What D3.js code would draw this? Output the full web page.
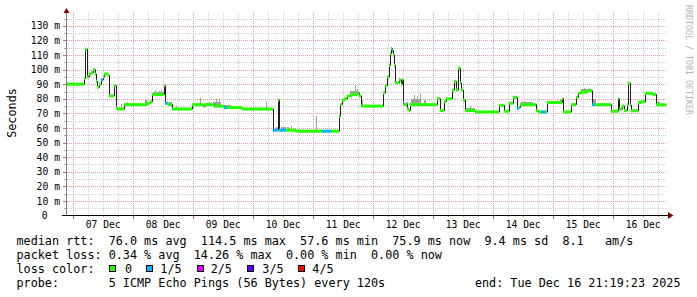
<!DOCTYPE html>
<html><head><meta charset="utf-8">
<script src="https://cdn.jsdelivr.net/npm/d3@7/dist/d3.min.js"></script>
<style>
body{margin:0;background:#fff}
svg text{font-family:"DejaVu Sans Mono",monospace;white-space:pre}
</style>
</head><body>
<svg id="c" width="697" height="297"></svg>
<script>
// ---------- DATA ----------
const startTime = new Date(2025, 11, 6, 21, 19, 23);
const endTime   = new Date(2025, 11, 16, 21, 19, 23);
// median rtt steps: hours since start, ms, lost pings (of 5)
const medHour = [0,7.2,7.6,8.4,9.2,10,10.8,11.6,12,12.4,13.2,14,14.8,15.2,16.8,17.2,19.2,20,20.4,23.2,
  32.4,33.6,34.4,39.2,39.6,40.8,42.4,50.4,54.8,55.6,59.2,63.2,64.4,70.4,82.8,83.2,84.8,85.2,88,92,
  102.4,106,109.2,109.6,110.4,111.2,112.4,114.4,116.4,117.2,118,126.8,127.6,128.4,129.2,129.6,130,130.4,130.8,131.2,
  131.6,133.2,134,134.4,134.8,135.2,136.4,137.2,137.6,148.4,149.6,151.2,152,154.4,155.2,156,156.8,157.6,158,158.8,
  159.6,163.6,173.2,175.2,177.2,178.8,180.4,181.2,181.6,188,188.8,190,192,192.4,198.4,198.8,202,204,204.8,206,
  208.4,210.4,211.6,218,220.8,221.2,222.4,223.2,224.4,224.8,225.6,226,228.8,230,231.6,234.8,236];
const medValue = [90,94,114,95,97,98,100,97,92,88,90,93,95,97,96,82,89,74,73,76,
  77,78,83,89,77,76,73,76,75,76,75,74,74,73,58,58.5,79,58.5,58.5,57.8,
  57.8,57.8,68,76,79,80,82,83,84,82,75,84,89,95,103,111,114.5,113,110,103,
  91,93,90,93,77,76,73,72,76,80,72,78,80,86,92,86,101,91,86,79,
  72,71,75.5,71.5,77,81,73.5,74,76,72,71,71,71,77.5,80,71,76,81,84,84.5,
  85.5,76,76,71.5,80,73,75,72,76,90.6,75.7,71.8,77.5,78,83.7,83,75.9];
const medLoss = [0,0,0,0,0,0,0,0,0,0,0,1,0,0,0,0,0,0,0,0,
  0,0,0,0,1,0,0,0,0,0,0,1,0,0,1,1,0,1,0,0,
  1,0,0,0,0,0,0,0,0,0,0,0,0,0,0,0,0,1,0,0,
  0,0,0,0,1,0,0,0,0,0,0,0,0,0,0,0,0,0,0,0,
  0,0,0,0,0,0,1,0,0,0,0,1,0,0,0,0,0,0,0,0,
  0,1,0,0,0,0,0,0,0,0,0,0,0,0,0,0,0];
// smoke (max ping rtt above the median): start hour, end hour, ms
const smokeStart = [0,22,24.4,26.8,31.6,34.8,35.6,37.2,38,39.6,41.2,44,46,53.6,56,57.2,58.8,60,61.2,62,80,84,86,88.4,90,100,
  113.6,115.6,116.4,118.4,136,138,139.2,140.4,141.6,143.2,160,161.6,182,183.2,197.6,206,207.2,209.2,210.4,236.4];
const smokeEnd   = [0.8,22.4,24.8,27.2,32.4,39.2,36,37.6,38.4,40,42.4,44.4,46.4,54,58,57.6,62,60.4,61.6,66,80.4,85.2,88,89.2,90.4,100.4,
  116.4,116,116.8,118.8,136.8,142,139.6,140.8,142,144,163.6,162,186.8,183.6,198.4,210.4,207.6,209.6,212,237.6];
const smokeMax   = [91.5,76.5,77.5,76.8,79,84.5,86,85.5,86,88,78,75,74.5,80.3,77,78,78,80,79,76,78.4,61,60.5,60.8,61.2,68,
  85.5,89,87,79,78,80,82.6,82,83,79,74,75,77.5,78.5,79.6,86.5,87.2,87.5,80,78];
const yMajor = d3.range(0, 131, 10);
const yMinor = d3.range(5, 136, 10);
const lossLabels = ["0", "1/5", "2/5", "3/5", "4/5"];
const lossColors = ["#26ff00", "#00b8ff", "#dd00ff", "#5e00ff", "#ff0000"];
const statLines = [
  "median rtt:  76.0 ms avg  114.5 ms max  57.6 ms min  75.9 ms now  9.4 ms sd  8.1   am/s",
  "packet loss: 0.34 % avg  14.26 % max  0.00 % min  0.00 % now"
];
const probeText = "probe:       5 ICMP Echo Pings (56 Bytes) every 120s";
const endText = "end: Tue Dec 16 21:19:23 2025";

// ---------- DRAW ----------
const svg = d3.select("#c");
const H = h => new Date(startTime.getTime() + h * 3600e3);
const x = d3.scaleTime().domain([startTime, endTime]).range([66, 666]);
const y = d3.scaleLinear().domain([0, 138.5]).range([215.5, 13.5]);
const plotTop = 13, plotBot = 215;
const CW = 7.09, CWA = 5.84;   // monospace advance: legend, axis
function mono(sel, cw) {
  sel.attr("textLength", d => null);
  sel.each(function () {
    const t = this.textContent;
    this.setAttribute("textLength", (t.length * cw).toFixed(2));
    this.setAttribute("lengthAdjust", "spacingAndGlyphs");
  });
  return sel;
}

// grid
const g = svg.append("g").attr("shape-rendering", "crispEdges");
const hours6 = d3.timeHour.range(startTime, endTime).filter(d => d.getHours() % 6 === 0);
hours6.forEach(d => {
  const major = d.getHours() === 0;
  const px = Math.round(x(d)) + 0.5;
  g.append("line").attr("x1", px).attr("x2", px).attr("y1", plotTop).attr("y2", plotBot)
    .attr("stroke", major ? "#e0a0a0" : "#cfcfcf").attr("stroke-dasharray", "1,1");
  g.append("line").attr("x1", px).attr("x2", px).attr("y1", plotBot).attr("y2", major ? 219 : 217)
    .attr("stroke", major ? "#c07070" : "#aaaaaa");
});
yMinor.forEach(v => {
  const py = Math.round(y(v)) + 0.5;
  g.append("line").attr("x1", 67).attr("x2", 667).attr("y1", py).attr("y2", py)
    .attr("stroke", "#cfcfcf").attr("stroke-dasharray", "1,1");
  g.append("line").attr("x1", 64).attr("x2", 66).attr("y1", py).attr("y2", py).attr("stroke", "#aaaaaa");
});
yMajor.filter(v => v > 0).forEach(v => {
  const py = Math.round(y(v)) + 0.5;
  g.append("line").attr("x1", 67).attr("x2", 667).attr("y1", py).attr("y2", py)
    .attr("stroke", "#e0a0a0").attr("stroke-dasharray", "1,1");
  g.append("line").attr("x1", 63).attr("x2", 66).attr("y1", py).attr("y2", py).attr("stroke", "#c07070");
});

// median lookup
const medTimes = medHour.map(H);
const bis = d3.bisector(d => d).right;
const medAt = t => medValue[Math.max(0, bis(medTimes, t) - 1)];

// smoke
const sg = svg.append("g").attr("shape-rendering", "crispEdges");
smokeStart.forEach((s, i) => {
  const t0 = H(s), t1 = H(smokeEnd[i]);
  const base = medAt(t0);
  sg.append("rect").attr("x", x(t0)).attr("width", x(t1) - x(t0))
    .attr("y", y(smokeMax[i])).attr("height", Math.max(0, y(base) - y(smokeMax[i])))
    .attr("fill", "#a0a0a0");
});

// black median line
const pts = medTimes.map((t, i) => [t, medValue[i]]);
pts.push([endTime, medValue[medValue.length - 1]]);
svg.append("path").attr("d", d3.line().x(d => x(d[0]) + 0.5).y(d => y(d[1])).curve(d3.curveStepAfter)(pts))
  .attr("fill", "none").attr("stroke", "#202020").attr("stroke-width", 1);

// loss-coloured median band
const sw = 1.05;
const bg = svg.append("g");
medTimes.forEach((t, i) => {
  const t1 = i + 1 < medTimes.length ? medTimes[i + 1] : endTime;
  bg.append("rect").attr("x", x(t)).attr("width", x(t1) - x(t))
    .attr("y", y(medValue[i] + sw)).attr("height", y(medValue[i] - sw) - y(medValue[i] + sw))
    .attr("fill", lossColors[medLoss[i]]);
});

// axes
svg.append("line").attr("x1", 66.5).attr("x2", 66.5).attr("y1", 215).attr("y2", 12)
  .attr("stroke", "#808080").attr("shape-rendering", "crispEdges");
svg.append("line").attr("x1", 62).attr("x2", 669).attr("y1", 215.5).attr("y2", 215.5)
  .attr("stroke", "#000").attr("shape-rendering", "crispEdges");
svg.append("path").attr("d", "M63.5,13L69.5,13L66.5,8Z").attr("fill", "#7f0000");
svg.append("path").attr("d", "M668,212L668,219L673.5,215.5Z").attr("fill", "#7f0000");

// y labels
yMajor.forEach(v => {
  mono(svg.append("text").attr("x", v === 0 ? 47.5 : 60).attr("y", y(v) + 3.6)
    .attr("text-anchor", "end").attr("font-size", "9.7px").attr("fill", "#000")
    .text(v === 0 ? "0" : v + " m"), CWA);
});
// x labels at noon
d3.timeDay.range(startTime, endTime).forEach(d => {
  const noon = d3.timeHour.offset(d, 12);
  if (noon < startTime || noon > endTime) return;
  mono(svg.append("text").attr("x", x(noon) + 0.5).attr("y", 227.5).attr("text-anchor", "middle")
    .attr("font-size", "9.7px").attr("fill", "#000").text(d3.timeFormat("%d %b")(d)), CWA);
});

// axis title
mono(svg.append("text").attr("transform", "translate(15.5,113) rotate(-90)").attr("text-anchor", "middle")
  .attr("font-size", "11.8px").attr("fill", "#000").text("Seconds"), CW);
// watermark
mono(svg.append("text").attr("transform", "translate(685.5,5) rotate(90)").attr("text-anchor", "start")
  .attr("font-size", "8.3px").attr("fill", "#b4b4b4").text("RRDTOOL / TOBI OETIKER"), 5.0);

// legend
const lf = "11.8px";
statLines.forEach((s, i) => {
  mono(svg.append("text").attr("x", 16.5).attr("y", 244.5 + i * 14.3).attr("font-size", lf).attr("fill", "#000").text(s), CW);
});
mono(svg.append("text").attr("x", 16.5).attr("y", 273).attr("font-size", lf).attr("fill", "#000").text("loss color:"), CW);
const boxX = [109.5, 146, 197, 247.5, 298];
const labX = [125, 160.3, 210.7, 262.3, 312.3];
lossLabels.forEach((l, i) => {
  svg.append("rect").attr("x", boxX[i]).attr("y", 265.5).attr("width", 6).attr("height", 6)
    .attr("fill", lossColors[i]).attr("stroke", "#000").attr("shape-rendering", "crispEdges");
  mono(svg.append("text").attr("x", labX[i]).attr("y", 273).attr("font-size", lf).attr("fill", "#000").text(l), CW);
});
mono(svg.append("text").attr("x", 16.5).attr("y", 287.3).attr("font-size", lf).attr("fill", "#000").text(probeText), CW);
mono(svg.append("text").attr("x", 680.5).attr("y", 287.3).attr("text-anchor", "end").attr("font-size", lf).attr("fill", "#000").text(endText), CW);
</script>
</body></html>
